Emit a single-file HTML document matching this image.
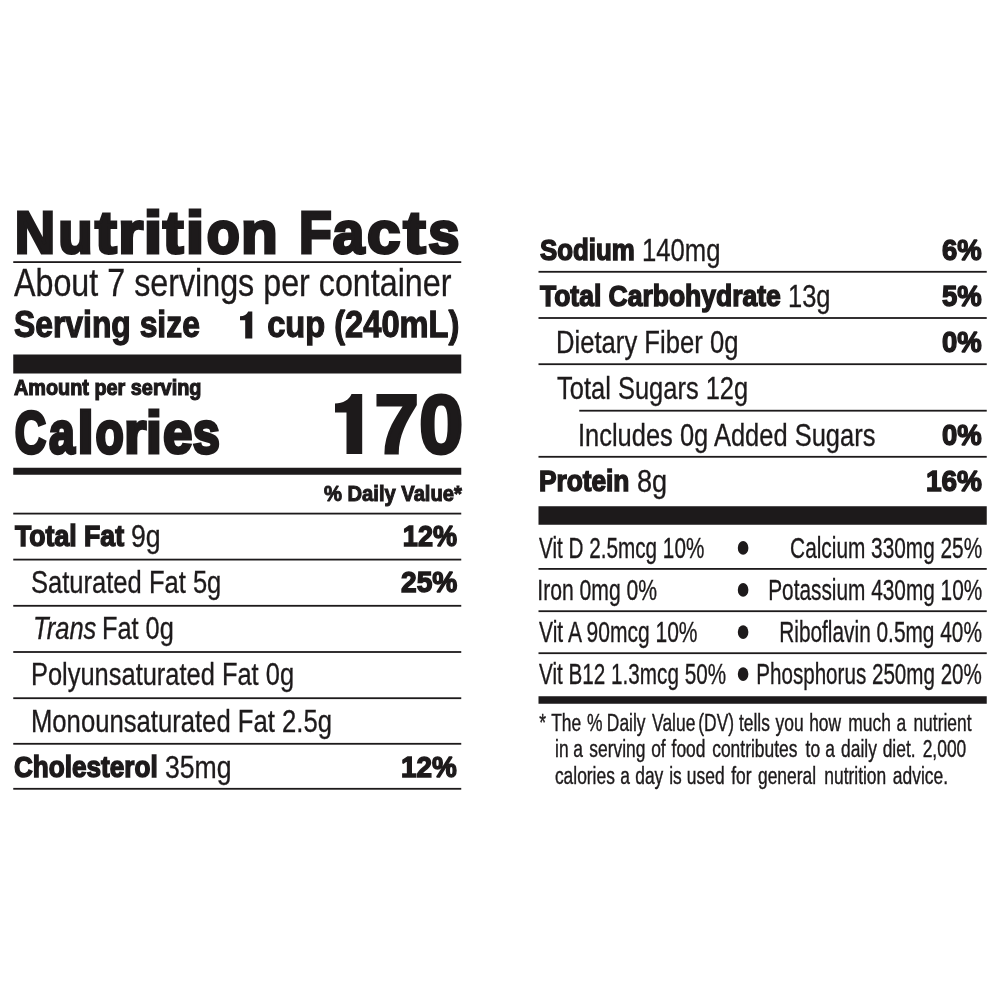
<!DOCTYPE html><html><head><meta charset="utf-8"><style>html,body{margin:0;padding:0;background:#fff;width:1000px;height:1000px;overflow:hidden}svg{display:block;will-change:transform}text{font-family:"Liberation Sans",sans-serif}</style></head><body>
<svg width="1000" height="1000" viewBox="0 0 1000 1000">
<rect x="13.25" y="261.2" width="448.00" height="1.80" fill="#1d1a1b" />
<rect x="13.25" y="512.7" width="448.00" height="1.80" fill="#1d1a1b" />
<rect x="13.25" y="558.7" width="448.00" height="1.80" fill="#1d1a1b" />
<rect x="13.25" y="604.9" width="448.00" height="1.80" fill="#1d1a1b" />
<rect x="13.25" y="651.1" width="448.00" height="1.80" fill="#1d1a1b" />
<rect x="13.25" y="697.3" width="448.00" height="1.80" fill="#1d1a1b" />
<rect x="13.25" y="742.9" width="448.00" height="1.80" fill="#1d1a1b" />
<rect x="13.25" y="787.9" width="448.00" height="1.80" fill="#1d1a1b" />
<rect x="13.25" y="354.5" width="448.00" height="19.00" fill="#1d1a1b" />
<rect x="13.25" y="467.75" width="448.00" height="7.00" fill="#1d1a1b" />
<rect x="538.5" y="270.9" width="448.25" height="1.80" fill="#1d1a1b" />
<rect x="538.5" y="317.1" width="448.25" height="1.80" fill="#1d1a1b" />
<rect x="538.5" y="363.3" width="448.25" height="1.80" fill="#1d1a1b" />
<rect x="538.5" y="455.9" width="448.25" height="1.80" fill="#1d1a1b" />
<rect x="538.5" y="568.0" width="448.25" height="1.80" fill="#1d1a1b" />
<rect x="538.5" y="610.3" width="448.25" height="1.80" fill="#1d1a1b" />
<rect x="538.5" y="652.3" width="448.25" height="1.80" fill="#1d1a1b" />
<rect x="579.25" y="409.8" width="407.50" height="1.80" fill="#1d1a1b" />
<rect x="538.5" y="506.25" width="448.25" height="18.50" fill="#1d1a1b" />
<rect x="538.5" y="696.25" width="448.25" height="7.50" fill="#1d1a1b" />
<path d="M335,403.5 C343,403.5 349.5,399.5 351.5,394 L362.2,394 L362.2,454 L346.5,454 L346.5,412.5 L335,412.5 Z" fill="#1d1a1b"/>
<path d="M240,316.2 C244,316.2 247,314.5 248.2,311.5 L252.3,311.5 L252.3,338.5 L245.2,338.5 L245.2,320.3 L240,320.3 Z" fill="#1d1a1b"/>
<ellipse cx="743.1" cy="547.9" rx="5.3" ry="6.8" fill="#1d1a1b"/>
<ellipse cx="743.1" cy="589.9" rx="5.3" ry="6.8" fill="#1d1a1b"/>
<ellipse cx="743.1" cy="632.1" rx="5.3" ry="6.8" fill="#1d1a1b"/>
<ellipse cx="743.1" cy="674.1" rx="5.3" ry="6.8" fill="#1d1a1b"/>
<text transform="translate(13.979,296.00) scale(0.8334,1)" x="0" y="0" font-size="38.71"  fill="#1d1a1b" stroke="#1d1a1b" stroke-width="0.3" stroke-linejoin="miter" stroke-miterlimit="2" vector-effect="non-scaling-stroke" xml:space="preserve">About 7 servings per container</text>
<text transform="translate(13.995,337.40) scale(0.8457,1)" x="0" y="0" font-size="37.67" font-weight="bold" fill="#1d1a1b" stroke="#1d1a1b" stroke-width="1.2" stroke-linejoin="miter" stroke-miterlimit="2" vector-effect="non-scaling-stroke" xml:space="preserve">Serving size</text>
<text transform="translate(267.183,337.40) scale(0.8664,1)" x="0" y="0" font-size="37.67" font-weight="bold" fill="#1d1a1b" stroke="#1d1a1b" stroke-width="1.2" stroke-linejoin="miter" stroke-miterlimit="2" vector-effect="non-scaling-stroke" xml:space="preserve">cup (240mL)</text>
<text transform="translate(14.000,395.45) scale(0.9098,1)" x="0" y="0" font-size="21.82" font-weight="bold" fill="#1d1a1b" stroke="#1d1a1b" stroke-width="1.1" stroke-linejoin="miter" stroke-miterlimit="2" vector-effect="non-scaling-stroke" xml:space="preserve">Amount per serving</text>
<text transform="translate(374.605,452.50) scale(0.9579,1)" x="0" y="0" font-size="83.28" font-weight="bold" fill="#1d1a1b" stroke="#1d1a1b" stroke-width="3.0" stroke-linejoin="miter" stroke-miterlimit="2" vector-effect="non-scaling-stroke" xml:space="preserve">70</text>
<text transform="translate(323.944,500.50) scale(0.8903,1)" x="0" y="0" font-size="22.67" font-weight="bold" fill="#1d1a1b" stroke="#1d1a1b" stroke-width="1.0" stroke-linejoin="miter" stroke-miterlimit="2" vector-effect="non-scaling-stroke" xml:space="preserve">% Daily Value*</text>
<text transform="translate(15.046,546.30) scale(0.8841,1)" x="0" y="0" font-size="30.15" font-weight="bold" fill="#1d1a1b" stroke="#1d1a1b" stroke-width="1.4" stroke-linejoin="miter" stroke-miterlimit="2" vector-effect="non-scaling-stroke" xml:space="preserve">Total Fat</text>
<text transform="translate(130.900,547.00) scale(0.8483,1)" x="0" y="0" font-size="31.44"  fill="#1d1a1b" stroke="#1d1a1b" stroke-width="0.3" stroke-linejoin="miter" stroke-miterlimit="2" vector-effect="non-scaling-stroke" xml:space="preserve">9g</text>
<text transform="translate(402.839,546.30) scale(0.8980,1)" x="0" y="0" font-size="30.15" font-weight="bold" fill="#1d1a1b" stroke="#1d1a1b" stroke-width="1.4" stroke-linejoin="miter" stroke-miterlimit="2" vector-effect="non-scaling-stroke" xml:space="preserve">12%</text>
<text transform="translate(30.973,593.00) scale(0.8131,1)" x="0" y="0" font-size="31.44"  fill="#1d1a1b" stroke="#1d1a1b" stroke-width="0.3" stroke-linejoin="miter" stroke-miterlimit="2" vector-effect="non-scaling-stroke" xml:space="preserve">Saturated Fat 5g</text>
<text transform="translate(401.000,592.30) scale(0.9333,1)" x="0" y="0" font-size="30.15" font-weight="bold" fill="#1d1a1b" stroke="#1d1a1b" stroke-width="1.4" stroke-linejoin="miter" stroke-miterlimit="2" vector-effect="non-scaling-stroke" xml:space="preserve">25%</text>
<text transform="translate(32.967,639.00) scale(0.8133,1)" x="0" y="0" font-size="31.44" font-style="italic" fill="#1d1a1b" stroke="#1d1a1b" stroke-width="0.3" stroke-linejoin="miter" stroke-miterlimit="2" vector-effect="non-scaling-stroke" xml:space="preserve">Trans</text>
<text transform="translate(101.985,639.00) scale(0.8059,1)" x="0" y="0" font-size="31.44"  fill="#1d1a1b" stroke="#1d1a1b" stroke-width="0.3" stroke-linejoin="miter" stroke-miterlimit="2" vector-effect="non-scaling-stroke" xml:space="preserve">Fat 0g</text>
<text transform="translate(30.981,685.00) scale(0.8094,1)" x="0" y="0" font-size="31.44"  fill="#1d1a1b" stroke="#1d1a1b" stroke-width="0.3" stroke-linejoin="miter" stroke-miterlimit="2" vector-effect="non-scaling-stroke" xml:space="preserve">Polyunsaturated Fat 0g</text>
<text transform="translate(30.967,731.50) scale(0.8164,1)" x="0" y="0" font-size="31.44"  fill="#1d1a1b" stroke="#1d1a1b" stroke-width="0.3" stroke-linejoin="miter" stroke-miterlimit="2" vector-effect="non-scaling-stroke" xml:space="preserve">Monounsaturated Fat 2.5g</text>
<text transform="translate(13.916,777.30) scale(0.8672,1)" x="0" y="0" font-size="30.15" font-weight="bold" fill="#1d1a1b" stroke="#1d1a1b" stroke-width="1.4" stroke-linejoin="miter" stroke-miterlimit="2" vector-effect="non-scaling-stroke" xml:space="preserve">Cholesterol</text>
<text transform="translate(164.942,778.00) scale(0.8467,1)" x="0" y="0" font-size="31.44"  fill="#1d1a1b" stroke="#1d1a1b" stroke-width="0.3" stroke-linejoin="miter" stroke-miterlimit="2" vector-effect="non-scaling-stroke" xml:space="preserve">35mg</text>
<text transform="translate(400.908,777.30) scale(0.9252,1)" x="0" y="0" font-size="30.15" font-weight="bold" fill="#1d1a1b" stroke="#1d1a1b" stroke-width="1.4" stroke-linejoin="miter" stroke-miterlimit="2" vector-effect="non-scaling-stroke" xml:space="preserve">12%</text>
<text transform="translate(540.000,260.30) scale(0.8575,1)" x="0" y="0" font-size="30.15" font-weight="bold" fill="#1d1a1b" stroke="#1d1a1b" stroke-width="1.4" stroke-linejoin="miter" stroke-miterlimit="2" vector-effect="non-scaling-stroke" xml:space="preserve">Sodium</text>
<text transform="translate(641.945,261.00) scale(0.8165,1)" x="0" y="0" font-size="31.44"  fill="#1d1a1b" stroke="#1d1a1b" stroke-width="0.3" stroke-linejoin="miter" stroke-miterlimit="2" vector-effect="non-scaling-stroke" xml:space="preserve">140mg</text>
<text transform="translate(941.921,260.30) scale(0.9120,1)" x="0" y="0" font-size="30.15" font-weight="bold" fill="#1d1a1b" stroke="#1d1a1b" stroke-width="1.4" stroke-linejoin="miter" stroke-miterlimit="2" vector-effect="non-scaling-stroke" xml:space="preserve">6%</text>
<text transform="translate(540.000,306.30) scale(0.8785,1)" x="0" y="0" font-size="30.15" font-weight="bold" fill="#1d1a1b" stroke="#1d1a1b" stroke-width="1.4" stroke-linejoin="miter" stroke-miterlimit="2" vector-effect="non-scaling-stroke" xml:space="preserve">Total Carbohydrate</text>
<text transform="translate(787.973,307.00) scale(0.8109,1)" x="0" y="0" font-size="31.44"  fill="#1d1a1b" stroke="#1d1a1b" stroke-width="0.3" stroke-linejoin="miter" stroke-miterlimit="2" vector-effect="non-scaling-stroke" xml:space="preserve">13g</text>
<text transform="translate(941.921,306.30) scale(0.9120,1)" x="0" y="0" font-size="30.15" font-weight="bold" fill="#1d1a1b" stroke="#1d1a1b" stroke-width="1.4" stroke-linejoin="miter" stroke-miterlimit="2" vector-effect="non-scaling-stroke" xml:space="preserve">5%</text>
<text transform="translate(555.964,353.00) scale(0.8159,1)" x="0" y="0" font-size="31.44"  fill="#1d1a1b" stroke="#1d1a1b" stroke-width="0.3" stroke-linejoin="miter" stroke-miterlimit="2" vector-effect="non-scaling-stroke" xml:space="preserve">Dietary Fiber 0g</text>
<text transform="translate(941.927,352.30) scale(0.9120,1)" x="0" y="0" font-size="30.15" font-weight="bold" fill="#1d1a1b" stroke="#1d1a1b" stroke-width="1.4" stroke-linejoin="miter" stroke-miterlimit="2" vector-effect="non-scaling-stroke" xml:space="preserve">0%</text>
<text transform="translate(556.992,399.25) scale(0.8107,1)" x="0" y="0" font-size="31.44"  fill="#1d1a1b" stroke="#1d1a1b" stroke-width="0.3" stroke-linejoin="miter" stroke-miterlimit="2" vector-effect="non-scaling-stroke" xml:space="preserve">Total Sugars 12g</text>
<text transform="translate(577.974,446.00) scale(0.8103,1)" x="0" y="0" font-size="31.44"  fill="#1d1a1b" stroke="#1d1a1b" stroke-width="0.3" stroke-linejoin="miter" stroke-miterlimit="2" vector-effect="non-scaling-stroke" xml:space="preserve">Includes 0g Added Sugars</text>
<text transform="translate(941.927,445.30) scale(0.9120,1)" x="0" y="0" font-size="30.15" font-weight="bold" fill="#1d1a1b" stroke="#1d1a1b" stroke-width="1.4" stroke-linejoin="miter" stroke-miterlimit="2" vector-effect="non-scaling-stroke" xml:space="preserve">0%</text>
<text transform="translate(538.910,491.30) scale(0.8716,1)" x="0" y="0" font-size="30.15" font-weight="bold" fill="#1d1a1b" stroke="#1d1a1b" stroke-width="1.4" stroke-linejoin="miter" stroke-miterlimit="2" vector-effect="non-scaling-stroke" xml:space="preserve">Protein</text>
<text transform="translate(636.920,492.00) scale(0.8640,1)" x="0" y="0" font-size="31.44"  fill="#1d1a1b" stroke="#1d1a1b" stroke-width="0.3" stroke-linejoin="miter" stroke-miterlimit="2" vector-effect="non-scaling-stroke" xml:space="preserve">8g</text>
<text transform="translate(925.902,491.30) scale(0.9298,1)" x="0" y="0" font-size="30.15" font-weight="bold" fill="#1d1a1b" stroke="#1d1a1b" stroke-width="1.4" stroke-linejoin="miter" stroke-miterlimit="2" vector-effect="non-scaling-stroke" xml:space="preserve">16%</text>
<text transform="translate(539.060,557.75) scale(0.7005,1)" x="0" y="0" font-size="29.55"  fill="#1d1a1b" stroke="#1d1a1b" stroke-width="0.3" stroke-linejoin="miter" stroke-miterlimit="2" vector-effect="non-scaling-stroke" xml:space="preserve">Vit D 2.5mcg 10%</text>
<text transform="translate(790.116,557.75) scale(0.7048,1)" x="0" y="0" font-size="29.55"  fill="#1d1a1b" stroke="#1d1a1b" stroke-width="0.3" stroke-linejoin="miter" stroke-miterlimit="2" vector-effect="non-scaling-stroke" xml:space="preserve">Calcium 330mg 25%</text>
<text transform="translate(537.261,599.75) scale(0.7161,1)" x="0" y="0" font-size="29.55"  fill="#1d1a1b" stroke="#1d1a1b" stroke-width="0.3" stroke-linejoin="miter" stroke-miterlimit="2" vector-effect="non-scaling-stroke" xml:space="preserve">Iron 0mg 0%</text>
<text transform="translate(768.202,599.75) scale(0.7048,1)" x="0" y="0" font-size="29.55"  fill="#1d1a1b" stroke="#1d1a1b" stroke-width="0.3" stroke-linejoin="miter" stroke-miterlimit="2" vector-effect="non-scaling-stroke" xml:space="preserve">Potassium 430mg 10%</text>
<text transform="translate(539.053,642.00) scale(0.7119,1)" x="0" y="0" font-size="29.55"  fill="#1d1a1b" stroke="#1d1a1b" stroke-width="0.3" stroke-linejoin="miter" stroke-miterlimit="2" vector-effect="non-scaling-stroke" xml:space="preserve">Vit A 90mcg 10%</text>
<text transform="translate(779.192,642.00) scale(0.7057,1)" x="0" y="0" font-size="29.55"  fill="#1d1a1b" stroke="#1d1a1b" stroke-width="0.3" stroke-linejoin="miter" stroke-miterlimit="2" vector-effect="non-scaling-stroke" xml:space="preserve">Riboflavin 0.5mg 40%</text>
<text transform="translate(539.061,684.00) scale(0.7000,1)" x="0" y="0" font-size="29.55"  fill="#1d1a1b" stroke="#1d1a1b" stroke-width="0.3" stroke-linejoin="miter" stroke-miterlimit="2" vector-effect="non-scaling-stroke" xml:space="preserve">Vit B12 1.3mcg 50%</text>
<text transform="translate(756.222,684.00) scale(0.6975,1)" x="0" y="0" font-size="29.55"  fill="#1d1a1b" stroke="#1d1a1b" stroke-width="0.3" stroke-linejoin="miter" stroke-miterlimit="2" vector-effect="non-scaling-stroke" xml:space="preserve">Phosphorus 250mg 20%</text>
<text transform="translate(14.670,252.50) scale(0.9319,1)" x="0" y="0" font-size="60.03" font-weight="bold" fill="#1d1a1b" stroke="#1d1a1b" stroke-width="3.0" stroke-linejoin="miter" stroke-miterlimit="2" vector-effect="non-scaling-stroke" xml:space="preserve">N</text>
<text transform="translate(58.316,252.50) scale(0.9387,1)" x="0" y="0" font-size="60.03" font-weight="bold" fill="#1d1a1b" stroke="#1d1a1b" stroke-width="3.0" stroke-linejoin="miter" stroke-miterlimit="2" vector-effect="non-scaling-stroke" xml:space="preserve">u</text>
<text transform="translate(95.040,252.50) scale(1.0928,1)" x="0" y="0" font-size="60.03" font-weight="bold" fill="#1d1a1b" stroke="#1d1a1b" stroke-width="3.0" stroke-linejoin="miter" stroke-miterlimit="2" vector-effect="non-scaling-stroke" xml:space="preserve">t</text>
<text transform="translate(117.882,252.50) scale(1.0827,1)" x="0" y="0" font-size="60.03" font-weight="bold" fill="#1d1a1b" stroke="#1d1a1b" stroke-width="3.0" stroke-linejoin="miter" stroke-miterlimit="2" vector-effect="non-scaling-stroke" xml:space="preserve">r</text>
<text transform="translate(143.456,252.50) scale(1.1398,1)" x="0" y="0" font-size="60.03" font-weight="bold" fill="#1d1a1b" stroke="#1d1a1b" stroke-width="3.0" stroke-linejoin="miter" stroke-miterlimit="2" vector-effect="non-scaling-stroke" xml:space="preserve">i</text>
<text transform="translate(162.708,252.50) scale(1.0408,1)" x="0" y="0" font-size="60.03" font-weight="bold" fill="#1d1a1b" stroke="#1d1a1b" stroke-width="3.0" stroke-linejoin="miter" stroke-miterlimit="2" vector-effect="non-scaling-stroke" xml:space="preserve">t</text>
<text transform="translate(185.456,252.50) scale(1.1398,1)" x="0" y="0" font-size="60.03" font-weight="bold" fill="#1d1a1b" stroke="#1d1a1b" stroke-width="3.0" stroke-linejoin="miter" stroke-miterlimit="2" vector-effect="non-scaling-stroke" xml:space="preserve">i</text>
<text transform="translate(206.697,252.50) scale(0.9002,1)" x="0" y="0" font-size="60.03" font-weight="bold" fill="#1d1a1b" stroke="#1d1a1b" stroke-width="3.0" stroke-linejoin="miter" stroke-miterlimit="2" vector-effect="non-scaling-stroke" xml:space="preserve">o</text>
<text transform="translate(241.029,252.50) scale(1.0007,1)" x="0" y="0" font-size="60.03" font-weight="bold" fill="#1d1a1b" stroke="#1d1a1b" stroke-width="3.0" stroke-linejoin="miter" stroke-miterlimit="2" vector-effect="non-scaling-stroke" xml:space="preserve">n</text>
<text transform="translate(298.936,252.50) scale(0.8922,1)" x="0" y="0" font-size="60.03" font-weight="bold" fill="#1d1a1b" stroke="#1d1a1b" stroke-width="3.0" stroke-linejoin="miter" stroke-miterlimit="2" vector-effect="non-scaling-stroke" xml:space="preserve">F</text>
<text transform="translate(332.792,252.50) scale(0.9458,1)" x="0" y="0" font-size="60.03" font-weight="bold" fill="#1d1a1b" stroke="#1d1a1b" stroke-width="3.0" stroke-linejoin="miter" stroke-miterlimit="2" vector-effect="non-scaling-stroke" xml:space="preserve">a</text>
<text transform="translate(366.999,252.50) scale(1.0018,1)" x="0" y="0" font-size="60.03" font-weight="bold" fill="#1d1a1b" stroke="#1d1a1b" stroke-width="3.0" stroke-linejoin="miter" stroke-miterlimit="2" vector-effect="non-scaling-stroke" xml:space="preserve">c</text>
<text transform="translate(403.197,252.50) scale(1.1254,1)" x="0" y="0" font-size="60.03" font-weight="bold" fill="#1d1a1b" stroke="#1d1a1b" stroke-width="3.0" stroke-linejoin="miter" stroke-miterlimit="2" vector-effect="non-scaling-stroke" xml:space="preserve">t</text>
<text transform="translate(428.336,252.50) scale(0.9315,1)" x="0" y="0" font-size="60.03" font-weight="bold" fill="#1d1a1b" stroke="#1d1a1b" stroke-width="3.0" stroke-linejoin="miter" stroke-miterlimit="2" vector-effect="non-scaling-stroke" xml:space="preserve">s</text>
<text transform="translate(14.647,452.50) scale(0.7249,1)" x="0" y="0" font-size="60.03" font-weight="bold" fill="#1d1a1b" stroke="#1d1a1b" stroke-width="3.0" stroke-linejoin="miter" stroke-miterlimit="2" vector-effect="non-scaling-stroke" xml:space="preserve">C</text>
<text transform="translate(49.000,452.50) scale(0.7714,1)" x="0" y="0" font-size="60.03" font-weight="bold" fill="#1d1a1b" stroke="#1d1a1b" stroke-width="3.0" stroke-linejoin="miter" stroke-miterlimit="2" vector-effect="non-scaling-stroke" xml:space="preserve">a</text>
<text transform="translate(77.358,452.50) scale(0.9977,1)" x="0" y="0" font-size="60.03" font-weight="bold" fill="#1d1a1b" stroke="#1d1a1b" stroke-width="3.0" stroke-linejoin="miter" stroke-miterlimit="2" vector-effect="non-scaling-stroke" xml:space="preserve">l</text>
<text transform="translate(95.621,452.50) scale(0.7714,1)" x="0" y="0" font-size="60.03" font-weight="bold" fill="#1d1a1b" stroke="#1d1a1b" stroke-width="3.0" stroke-linejoin="miter" stroke-miterlimit="2" vector-effect="non-scaling-stroke" xml:space="preserve">o</text>
<text transform="translate(124.076,452.50) scale(0.9557,1)" x="0" y="0" font-size="60.03" font-weight="bold" fill="#1d1a1b" stroke="#1d1a1b" stroke-width="3.0" stroke-linejoin="miter" stroke-miterlimit="2" vector-effect="non-scaling-stroke" xml:space="preserve">r</text>
<text transform="translate(145.867,452.50) scale(0.9778,1)" x="0" y="0" font-size="60.03" font-weight="bold" fill="#1d1a1b" stroke="#1d1a1b" stroke-width="3.0" stroke-linejoin="miter" stroke-miterlimit="2" vector-effect="non-scaling-stroke" xml:space="preserve">i</text>
<text transform="translate(162.900,452.50) scale(0.8803,1)" x="0" y="0" font-size="60.03" font-weight="bold" fill="#1d1a1b" stroke="#1d1a1b" stroke-width="3.0" stroke-linejoin="miter" stroke-miterlimit="2" vector-effect="non-scaling-stroke" xml:space="preserve">e</text>
<text transform="translate(192.782,452.50) scale(0.8129,1)" x="0" y="0" font-size="60.03" font-weight="bold" fill="#1d1a1b" stroke="#1d1a1b" stroke-width="3.0" stroke-linejoin="miter" stroke-miterlimit="2" vector-effect="non-scaling-stroke" xml:space="preserve">s</text>
<text transform="translate(539.248,730.68) scale(0.7450,1)" x="0" y="0" font-size="23.38"  fill="#1d1a1b" stroke="#1d1a1b" stroke-width="0.35" stroke-linejoin="miter" stroke-miterlimit="2" vector-effect="non-scaling-stroke" xml:space="preserve">*</text>
<text transform="translate(551.216,730.68) scale(0.7450,1)" x="0" y="0" font-size="23.38"  fill="#1d1a1b" stroke="#1d1a1b" stroke-width="0.35" stroke-linejoin="miter" stroke-miterlimit="2" vector-effect="non-scaling-stroke" xml:space="preserve">The</text>
<text transform="translate(586.964,730.68) scale(0.7450,1)" x="0" y="0" font-size="23.38"  fill="#1d1a1b" stroke="#1d1a1b" stroke-width="0.35" stroke-linejoin="miter" stroke-miterlimit="2" vector-effect="non-scaling-stroke" xml:space="preserve">%</text>
<text transform="translate(606.814,730.68) scale(0.7450,1)" x="0" y="0" font-size="23.38"  fill="#1d1a1b" stroke="#1d1a1b" stroke-width="0.35" stroke-linejoin="miter" stroke-miterlimit="2" vector-effect="non-scaling-stroke" xml:space="preserve">Daily</text>
<text transform="translate(652.074,730.68) scale(0.7450,1)" x="0" y="0" font-size="23.38"  fill="#1d1a1b" stroke="#1d1a1b" stroke-width="0.35" stroke-linejoin="miter" stroke-miterlimit="2" vector-effect="non-scaling-stroke" xml:space="preserve">Value</text>
<text transform="translate(698.284,730.68) scale(0.7450,1)" x="0" y="0" font-size="23.38"  fill="#1d1a1b" stroke="#1d1a1b" stroke-width="0.35" stroke-linejoin="miter" stroke-miterlimit="2" vector-effect="non-scaling-stroke" xml:space="preserve">(DV)</text>
<text transform="translate(738.934,730.68) scale(0.7450,1)" x="0" y="0" font-size="23.38"  fill="#1d1a1b" stroke="#1d1a1b" stroke-width="0.35" stroke-linejoin="miter" stroke-miterlimit="2" vector-effect="non-scaling-stroke" xml:space="preserve">tells</text>
<text transform="translate(775.526,730.68) scale(0.7450,1)" x="0" y="0" font-size="23.38"  fill="#1d1a1b" stroke="#1d1a1b" stroke-width="0.35" stroke-linejoin="miter" stroke-miterlimit="2" vector-effect="non-scaling-stroke" xml:space="preserve">you</text>
<text transform="translate(809.167,730.68) scale(0.7450,1)" x="0" y="0" font-size="23.38"  fill="#1d1a1b" stroke="#1d1a1b" stroke-width="0.35" stroke-linejoin="miter" stroke-miterlimit="2" vector-effect="non-scaling-stroke" xml:space="preserve">how</text>
<text transform="translate(848.288,730.68) scale(0.7450,1)" x="0" y="0" font-size="23.38"  fill="#1d1a1b" stroke="#1d1a1b" stroke-width="0.35" stroke-linejoin="miter" stroke-miterlimit="2" vector-effect="non-scaling-stroke" xml:space="preserve">much</text>
<text transform="translate(896.435,730.68) scale(0.7450,1)" x="0" y="0" font-size="23.38"  fill="#1d1a1b" stroke="#1d1a1b" stroke-width="0.35" stroke-linejoin="miter" stroke-miterlimit="2" vector-effect="non-scaling-stroke" xml:space="preserve">a</text>
<text transform="translate(913.429,730.68) scale(0.7450,1)" x="0" y="0" font-size="23.38"  fill="#1d1a1b" stroke="#1d1a1b" stroke-width="0.35" stroke-linejoin="miter" stroke-miterlimit="2" vector-effect="non-scaling-stroke" xml:space="preserve">nutrient</text>
<text transform="translate(555.023,757.08) scale(0.7450,1)" x="0" y="0" font-size="23.38"  fill="#1d1a1b" stroke="#1d1a1b" stroke-width="0.35" stroke-linejoin="miter" stroke-miterlimit="2" vector-effect="non-scaling-stroke" xml:space="preserve">in</text>
<text transform="translate(573.228,757.08) scale(0.7450,1)" x="0" y="0" font-size="23.38"  fill="#1d1a1b" stroke="#1d1a1b" stroke-width="0.35" stroke-linejoin="miter" stroke-miterlimit="2" vector-effect="non-scaling-stroke" xml:space="preserve">a</text>
<text transform="translate(589.319,757.08) scale(0.7450,1)" x="0" y="0" font-size="23.38"  fill="#1d1a1b" stroke="#1d1a1b" stroke-width="0.35" stroke-linejoin="miter" stroke-miterlimit="2" vector-effect="non-scaling-stroke" xml:space="preserve">serving</text>
<text transform="translate(651.178,757.08) scale(0.7450,1)" x="0" y="0" font-size="23.38"  fill="#1d1a1b" stroke="#1d1a1b" stroke-width="0.35" stroke-linejoin="miter" stroke-miterlimit="2" vector-effect="non-scaling-stroke" xml:space="preserve">of</text>
<text transform="translate(671.560,757.08) scale(0.7450,1)" x="0" y="0" font-size="23.38"  fill="#1d1a1b" stroke="#1d1a1b" stroke-width="0.35" stroke-linejoin="miter" stroke-miterlimit="2" vector-effect="non-scaling-stroke" xml:space="preserve">food</text>
<text transform="translate(712.228,757.08) scale(0.7450,1)" x="0" y="0" font-size="23.38"  fill="#1d1a1b" stroke="#1d1a1b" stroke-width="0.35" stroke-linejoin="miter" stroke-miterlimit="2" vector-effect="non-scaling-stroke" xml:space="preserve">contributes</text>
<text transform="translate(805.600,757.08) scale(0.7450,1)" x="0" y="0" font-size="23.38"  fill="#1d1a1b" stroke="#1d1a1b" stroke-width="0.35" stroke-linejoin="miter" stroke-miterlimit="2" vector-effect="non-scaling-stroke" xml:space="preserve">to</text>
<text transform="translate(825.285,757.08) scale(0.7450,1)" x="0" y="0" font-size="23.38"  fill="#1d1a1b" stroke="#1d1a1b" stroke-width="0.35" stroke-linejoin="miter" stroke-miterlimit="2" vector-effect="non-scaling-stroke" xml:space="preserve">a</text>
<text transform="translate(841.111,757.08) scale(0.7450,1)" x="0" y="0" font-size="23.38"  fill="#1d1a1b" stroke="#1d1a1b" stroke-width="0.35" stroke-linejoin="miter" stroke-miterlimit="2" vector-effect="non-scaling-stroke" xml:space="preserve">daily</text>
<text transform="translate(882.662,757.08) scale(0.7450,1)" x="0" y="0" font-size="23.38"  fill="#1d1a1b" stroke="#1d1a1b" stroke-width="0.35" stroke-linejoin="miter" stroke-miterlimit="2" vector-effect="non-scaling-stroke" xml:space="preserve">diet.</text>
<text transform="translate(922.686,757.08) scale(0.7450,1)" x="0" y="0" font-size="23.38"  fill="#1d1a1b" stroke="#1d1a1b" stroke-width="0.35" stroke-linejoin="miter" stroke-miterlimit="2" vector-effect="non-scaling-stroke" xml:space="preserve">2,000</text>
<text transform="translate(554.879,784.03) scale(0.7450,1)" x="0" y="0" font-size="23.38"  fill="#1d1a1b" stroke="#1d1a1b" stroke-width="0.35" stroke-linejoin="miter" stroke-miterlimit="2" vector-effect="non-scaling-stroke" xml:space="preserve">calories</text>
<text transform="translate(620.185,784.03) scale(0.7450,1)" x="0" y="0" font-size="23.38"  fill="#1d1a1b" stroke="#1d1a1b" stroke-width="0.35" stroke-linejoin="miter" stroke-miterlimit="2" vector-effect="non-scaling-stroke" xml:space="preserve">a</text>
<text transform="translate(635.202,784.03) scale(0.7450,1)" x="0" y="0" font-size="23.38"  fill="#1d1a1b" stroke="#1d1a1b" stroke-width="0.35" stroke-linejoin="miter" stroke-miterlimit="2" vector-effect="non-scaling-stroke" xml:space="preserve">day</text>
<text transform="translate(669.161,784.03) scale(0.7450,1)" x="0" y="0" font-size="23.38"  fill="#1d1a1b" stroke="#1d1a1b" stroke-width="0.35" stroke-linejoin="miter" stroke-miterlimit="2" vector-effect="non-scaling-stroke" xml:space="preserve">is</text>
<text transform="translate(686.816,784.03) scale(0.7450,1)" x="0" y="0" font-size="23.38"  fill="#1d1a1b" stroke="#1d1a1b" stroke-width="0.35" stroke-linejoin="miter" stroke-miterlimit="2" vector-effect="non-scaling-stroke" xml:space="preserve">used</text>
<text transform="translate(731.236,784.03) scale(0.7450,1)" x="0" y="0" font-size="23.38"  fill="#1d1a1b" stroke="#1d1a1b" stroke-width="0.35" stroke-linejoin="miter" stroke-miterlimit="2" vector-effect="non-scaling-stroke" xml:space="preserve">for</text>
<text transform="translate(758.002,784.03) scale(0.7450,1)" x="0" y="0" font-size="23.38"  fill="#1d1a1b" stroke="#1d1a1b" stroke-width="0.35" stroke-linejoin="miter" stroke-miterlimit="2" vector-effect="non-scaling-stroke" xml:space="preserve">general</text>
<text transform="translate(824.269,784.03) scale(0.7450,1)" x="0" y="0" font-size="23.38"  fill="#1d1a1b" stroke="#1d1a1b" stroke-width="0.35" stroke-linejoin="miter" stroke-miterlimit="2" vector-effect="non-scaling-stroke" xml:space="preserve">nutrition</text>
<text transform="translate(892.837,784.03) scale(0.7450,1)" x="0" y="0" font-size="23.38"  fill="#1d1a1b" stroke="#1d1a1b" stroke-width="0.35" stroke-linejoin="miter" stroke-miterlimit="2" vector-effect="non-scaling-stroke" xml:space="preserve">advice.</text>
</svg></body></html>
